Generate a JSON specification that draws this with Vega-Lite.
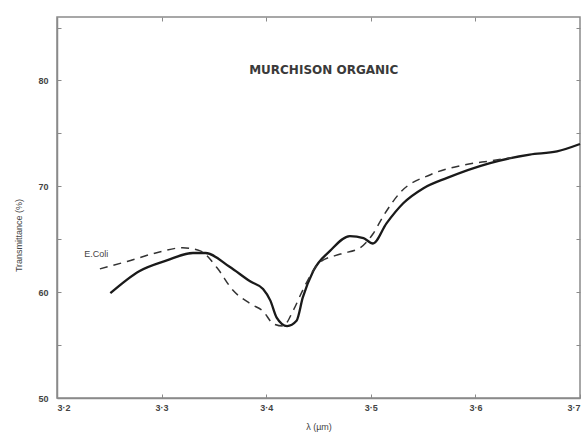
{
  "$schema": "https://vega.github.io/schema/vega-lite/v6.json",
  "autosize": {"type": "none"},
  "width": 523,
  "height": 381,
  "padding": {"left": 57, "top": 17, "right": 8, "bottom": 37},
  "background": "white",
  "config": {
    "view": {"stroke": "#8a8a8a", "strokeWidth": 1.5},
    "font": "Liberation Sans",
    "axis": {
      "domainColor": "#8a8a8a",
      "domainWidth": 1.5,
      "tickColor": "#8a8a8a",
      "grid": false,
      "labelColor": "#444",
      "labelFontWeight": "bold",
      "labelFontSize": 9,
      "titleColor": "#444",
      "titleFontWeight": "normal",
      "titleFontSize": 9
    }
  },
  "datasets": {
    "spectra": [
      {"series": "Murchison", "wl": 3.251, "T": 59.9},
      {"series": "Murchison", "wl": 3.279, "T": 62.0},
      {"series": "Murchison", "wl": 3.305, "T": 63.0},
      {"series": "Murchison", "wl": 3.330, "T": 63.7},
      {"series": "Murchison", "wl": 3.342, "T": 63.7},
      {"series": "Murchison", "wl": 3.365, "T": 62.4},
      {"series": "Murchison", "wl": 3.385, "T": 61.0},
      {"series": "Murchison", "wl": 3.397, "T": 60.3},
      {"series": "Murchison", "wl": 3.404, "T": 59.2},
      {"series": "Murchison", "wl": 3.410, "T": 57.6},
      {"series": "Murchison", "wl": 3.420, "T": 56.8},
      {"series": "Murchison", "wl": 3.429, "T": 57.3},
      {"series": "Murchison", "wl": 3.435, "T": 59.5},
      {"series": "Murchison", "wl": 3.445, "T": 62.0},
      {"series": "Murchison", "wl": 3.461, "T": 63.9},
      {"series": "Murchison", "wl": 3.480, "T": 65.3},
      {"series": "Murchison", "wl": 3.493, "T": 65.1},
      {"series": "Murchison", "wl": 3.502, "T": 64.6},
      {"series": "Murchison", "wl": 3.515, "T": 66.5},
      {"series": "Murchison", "wl": 3.531, "T": 68.4},
      {"series": "Murchison", "wl": 3.550, "T": 69.8},
      {"series": "Murchison", "wl": 3.573, "T": 70.8},
      {"series": "Murchison", "wl": 3.614, "T": 72.2},
      {"series": "Murchison", "wl": 3.652, "T": 73.0},
      {"series": "Murchison", "wl": 3.678, "T": 73.3},
      {"series": "Murchison", "wl": 3.700, "T": 74.0},
      {"series": "E.Coli", "wl": 3.241, "T": 62.2},
      {"series": "E.Coli", "wl": 3.267, "T": 62.9},
      {"series": "E.Coli", "wl": 3.298, "T": 63.8},
      {"series": "E.Coli", "wl": 3.320, "T": 64.2},
      {"series": "E.Coli", "wl": 3.337, "T": 63.9},
      {"series": "E.Coli", "wl": 3.353, "T": 62.3},
      {"series": "E.Coli", "wl": 3.368, "T": 60.2},
      {"series": "E.Coli", "wl": 3.385, "T": 58.9},
      {"series": "E.Coli", "wl": 3.397, "T": 58.2},
      {"series": "E.Coli", "wl": 3.407, "T": 57.0},
      {"series": "E.Coli", "wl": 3.416, "T": 56.8},
      {"series": "E.Coli", "wl": 3.426, "T": 58.3},
      {"series": "E.Coli", "wl": 3.435, "T": 60.2},
      {"series": "E.Coli", "wl": 3.451, "T": 62.8},
      {"series": "E.Coli", "wl": 3.471, "T": 63.6},
      {"series": "E.Coli", "wl": 3.490, "T": 64.2},
      {"series": "E.Coli", "wl": 3.502, "T": 65.5},
      {"series": "E.Coli", "wl": 3.512, "T": 67.2},
      {"series": "E.Coli", "wl": 3.528, "T": 69.4},
      {"series": "E.Coli", "wl": 3.557, "T": 71.1},
      {"series": "E.Coli", "wl": 3.588, "T": 72.0},
      {"series": "E.Coli", "wl": 3.614, "T": 72.4},
      {"series": "E.Coli", "wl": 3.635, "T": 72.7}
    ],
    "notes": [
      {"label": "MURCHISON ORGANIC", "wl": 3.455, "T": 81.0, "kind": "title"},
      {"label": "E.Coli", "wl": 3.226, "T": 63.6, "kind": "curve"}
    ]
  },
  "resolve": {"axis": {"x": "independent", "y": "independent"}},
  "layer": [
    {
      "data": {"name": "spectra"},
      "transform": [{"filter": "datum.series === 'Murchison'"}],
      "mark": {"type": "line", "color": "#1a1a1a", "strokeWidth": 2.3, "interpolate": "monotone"},
      "encoding": {
        "x": {
          "field": "wl", "type": "quantitative",
          "scale": {"domain": [3.2, 3.7], "nice": false},
          "axis": {
            "values": [3.2, 3.3, 3.4, 3.5, 3.6, 3.7],
            "labelExpr": "replace(format(datum.value, '.1f'), '.', '·')",
            "tickSize": -4,
            "labelPadding": 9,
            "title": "λ (µm)",
            "titlePadding": 10
          }
        },
        "y": {
          "field": "T", "type": "quantitative",
          "scale": {"domain": [50, 86], "nice": false},
          "axis": {
            "values": [50, 55, 60, 65, 70, 75, 80, 85],
            "labelExpr": "datum.value % 10 === 0 ? datum.label : ''",
            "tickSize": -4,
            "labelPadding": 13,
            "title": "Transmittance (%)",
            "titlePadding": 14,
            "titleY": 218
          }
        }
      }
    },
    {
      "data": {"name": "spectra"},
      "transform": [{"filter": "datum.series === 'E.Coli'"}],
      "mark": {"type": "line", "color": "#333", "strokeWidth": 1.5, "strokeDash": [8, 6], "interpolate": "monotone"},
      "encoding": {
        "x": {
          "field": "wl", "type": "quantitative",
          "axis": {"orient": "top", "values": [3.3, 3.4, 3.5, 3.6], "labels": false, "tickSize": -4, "domain": false, "title": null}
        },
        "y": {
          "field": "T", "type": "quantitative",
          "axis": {"orient": "right", "values": [55, 60, 65, 70, 75, 80, 85], "labels": false, "tickSize": -4, "domain": false, "title": null}
        }
      }
    },
    {
      "data": {"name": "notes"},
      "transform": [{"filter": "datum.kind === 'title'"}],
      "mark": {"type": "text", "font": "DejaVu Sans", "fontWeight": "bold", "fontSize": 12, "color": "#3a3a3a", "align": "center", "baseline": "middle"},
      "encoding": {
        "x": {"field": "wl", "type": "quantitative", "axis": null},
        "y": {"field": "T", "type": "quantitative", "axis": null},
        "text": {"field": "label"}
      }
    },
    {
      "data": {"name": "notes"},
      "transform": [{"filter": "datum.kind === 'curve'"}],
      "mark": {"type": "text", "fontSize": 9, "color": "#444", "align": "left", "baseline": "middle"},
      "encoding": {
        "x": {"field": "wl", "type": "quantitative", "axis": null},
        "y": {"field": "T", "type": "quantitative", "axis": null},
        "text": {"field": "label"}
      }
    }
  ]
}
